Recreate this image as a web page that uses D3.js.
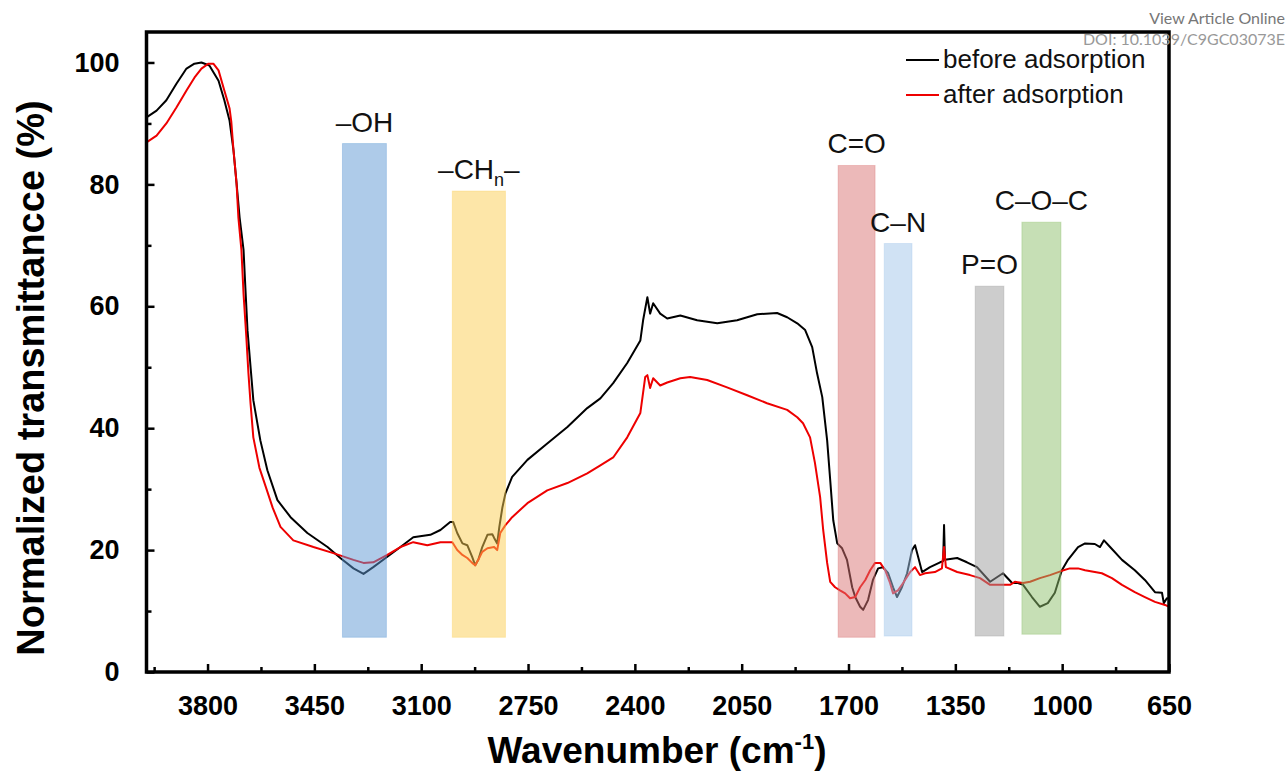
<!DOCTYPE html>
<html>
<head>
<meta charset="utf-8">
<script src="https://cdn.jsdelivr.net/npm/d3@7"></script>
<style>
  html, body { margin: 0; padding: 0; background: #fff; }
  svg { display: block; }
</style>
</head>
<body>
<svg id="chart" width="1288" height="772"></svg>
<script>
// ---- Data (wavenumber cm-1, normalized transmittance %) ----
const beforeWn = [4000,3967,3935,3902,3869,3843,3820,3794,3764,3745,3728,3715,3705,3695,3682,3676,3669,3659,3650,3627,3604,3571,3528,3473,3407,3365,3322,3289,3257,3211,3168,3126,3070,3037,3005,2995,2982,2965,2949,2933,2923,2913,2900,2883,2867,2861,2851,2844,2834,2824,2802,2752,2687,2621,2556,2513,2471,2425,2382,2373,2359,2350,2340,2317,2294,2251,2196,2130,2065,1999,1934,1901,1868,1842,1819,1803,1786,1770,1760,1750,1737,1721,1705,1688,1678,1662,1652,1636,1620,1603,1587,1570,1554,1541,1525,1508,1492,1482,1472,1459,1433,1400,1390,1387,1384,1344,1312,1279,1236,1194,1164,1145,1128,1099,1073,1047,1024,1001,981,948,925,893,876,863,843,804,762,729,696,673,667,657,650];
const beforeT  = [91.0,92.1,93.8,96.5,99.0,99.8,100,99.5,97.0,93.8,90.5,85.6,80.2,74.6,69.2,63,56,50,44.6,38,33.1,28.2,25.4,22.8,20.5,18.7,17.0,16.1,17.2,18.9,20.5,22.1,22.5,23.3,24.6,24.6,22.8,21.1,20.8,18.9,17.5,18.4,20.5,22.5,22.6,22.0,21.1,23.8,27.0,29.3,32.0,34.8,37.5,40.2,43.3,44.9,47.4,50.7,54.4,57.7,61.5,58.8,60.5,58.8,58.0,58.5,57.7,57.2,57.7,58.7,58.9,58.2,57.2,56.1,53.3,49,45.1,38,31.5,24.9,21.1,20.3,18.4,13.9,12.3,10.7,10.2,11.8,15.1,17.0,17.2,16.2,13.9,12.3,13.9,16.2,20.0,20.8,18.9,16.4,17.2,18.0,18.2,24.1,18.4,18.7,18.0,17.2,14.8,16.2,14.6,14.6,14.3,12.3,10.7,11.3,13.0,16.7,18.4,20.5,21.1,21.0,20.5,21.6,20.5,18.4,16.7,15.1,13.1,13.0,11.3,12.1,12.0];

const afterWn = [4000,3967,3935,3902,3869,3843,3820,3797,3781,3764,3745,3728,3722,3715,3705,3699,3689,3682,3673,3666,3659,3650,3630,3610,3587,3561,3519,3453,3388,3322,3289,3257,3211,3168,3126,3080,3037,2998,2982,2965,2949,2933,2923,2913,2900,2883,2861,2851,2841,2824,2802,2752,2687,2621,2556,2513,2471,2425,2382,2366,2359,2350,2340,2317,2294,2251,2219,2163,2098,2032,1967,1901,1868,1849,1826,1810,1793,1783,1770,1760,1744,1728,1711,1695,1678,1662,1645,1629,1613,1596,1580,1564,1554,1538,1521,1498,1482,1466,1449,1417,1394,1387,1381,1344,1302,1269,1236,1204,1171,1155,1128,1105,1073,1040,1001,975,948,925,893,870,837,804,762,729,696,663,650];
const afterT  = [86.9,88.0,90.0,92.6,95.4,97.5,99.0,99.8,99.8,98.7,95.4,92.5,90.2,85.6,80.2,74.6,69.2,62,55,49,44.0,38.5,33.5,30.5,27,23.8,21.6,20.5,19.5,18.4,17.9,18.0,19.2,20.5,21.3,20.8,21.3,21.3,20.0,19.2,18.7,17.9,17.5,18.4,19.7,20.3,20.5,20.0,22.8,24.1,25.4,27.7,29.8,31.0,32.6,33.9,35.2,38.5,42.5,48.4,48.7,46.6,48.2,47.0,47.5,48.2,48.4,47.9,46.7,45.4,44.1,43.0,41.8,40.8,38.5,34.3,28.7,23.3,17.9,14.8,13.9,13.4,12.9,12.1,12.3,13.9,15.1,16.7,17.9,17.9,16.7,14.6,12.9,13.4,14.6,16.4,17.2,15.9,16.2,16.4,17.0,20.5,17.2,16.4,15.9,15.4,14.3,14.3,14.3,14.8,14.6,14.8,15.4,15.9,16.6,17.0,17.0,16.7,16.4,16.2,15.4,14.3,13.1,12.3,11.5,11.0,10.7];

const bandLabels = ["–OH", "–CH|n|–", "C=O", "C–N", "P=O", "C–O–C"];
const bandFrom   = [3358, 2998, 1734, 1583, 1285, 1132];
const bandTo     = [3214, 2824, 1613, 1492, 1191, 1004];
const bandTop    = [86.7, 78.9, 83.1, 70.3, 63.3, 73.8];
const bandBottom = [5.7, 5.7, 5.7, 5.9, 5.9, 6.2];
const bandColors = ["#5d98d4", "#fbcd52", "#d97373", "#a2c6ea", "#9c9c9c", "#8dbf6b"];

const seriesNames  = ["before adsorption", "after adsorption"];
const seriesColors = ["#000000", "#ee0000"];

const xMajorTicks = [3800, 3450, 3100, 2750, 2400, 2050, 1700, 1350, 1000, 650];
const xMinorTicks = [3975, 3625, 3275, 2925, 2575, 2225, 1875, 1525, 1175, 825];
const yMajorTicks = [0, 20, 40, 60, 80, 100];
const yMinorTicks = [10, 30, 50, 70, 90];

// ---- Layout ----
const svg = d3.select("#chart");
const L = 146.5, R = 1169, T = 32, B = 672;
const x = d3.scaleLinear().domain([4000, 650]).range([L, R]);
const y = d3.scaleLinear().domain([0, 105]).range([B, T]);

// curves
const line = d3.line().x(d => x(d[0])).y(d => y(d[1]));
const beforeData = beforeWn.map((w, i) => [w, beforeT[i]]);
const afterData  = afterWn.map((w, i) => [w, afterT[i]]);

svg.append("path").datum(beforeData).attr("d", line)
  .attr("fill", "none").attr("stroke", seriesColors[0]).attr("stroke-width", 2).attr("stroke-linejoin", "round");
svg.append("path").datum(afterData).attr("d", line)
  .attr("fill", "none").attr("stroke", seriesColors[1]).attr("stroke-width", 2).attr("stroke-linejoin", "round");

// bands (semi-transparent, on top of the curves)
const bands = bandLabels.map((lab, i) => ({lab, a: bandFrom[i], b: bandTo[i], top: bandTop[i], bot: bandBottom[i], c: bandColors[i]}));
svg.append("g").selectAll("rect").data(bands).join("rect")
  .attr("x", d => x(d.a)).attr("width", d => x(d.b) - x(d.a))
  .attr("y", d => y(d.top)).attr("height", d => y(d.bot) - y(d.top))
  .attr("fill", d => d.c).attr("fill-opacity", 0.5)
  .attr("stroke", d => d.c).attr("stroke-opacity", 0.35).attr("stroke-width", 1);

// band labels
const labG = svg.append("g").attr("font-family", "Liberation Sans, Arial, sans-serif").attr("font-size", 28).attr("fill", "#111");
bands.forEach(d => {
  const t = labG.append("text").attr("x", (x(d.a) + x(d.b)) / 2).attr("y", y(d.top) - 12).attr("text-anchor", "middle");
  const parts = d.lab.split("|");
  parts.forEach((p, k) => {
    if (k === 1) {
      t.append("tspan").attr("font-size", 18).attr("dy", 7).text(p);
    } else if (k === 2) {
      t.append("tspan").attr("dy", -7).text(p);
    } else {
      t.append("tspan").text(p);
    }
  });
});

// axes
const axFont = "Liberation Sans, Arial, sans-serif";
const xAxis = svg.append("g").attr("transform", `translate(0,${B})`)
  .call(d3.axisBottom(x).tickValues(xMajorTicks).tickSize(-8).tickPadding(24).tickFormat(d3.format("d")));
const xMinor = svg.append("g").attr("transform", `translate(0,${B})`)
  .call(d3.axisBottom(x).tickValues(xMinorTicks).tickSize(-5).tickFormat(""));
const yAxis = svg.append("g").attr("transform", `translate(${L},0)`)
  .call(d3.axisLeft(y).tickValues(yMajorTicks).tickSize(-8).tickPadding(27).tickFormat(d3.format("d")));
const yMinor = svg.append("g").attr("transform", `translate(${L},0)`)
  .call(d3.axisLeft(y).tickValues(yMinorTicks).tickSize(-5).tickFormat(""));

[xAxis, xMinor, yAxis, yMinor].forEach(g => {
  g.select(".domain").remove();
  g.selectAll(".tick line").attr("stroke", "#000").attr("stroke-width", 2.5);
  g.selectAll(".tick text").attr("font-family", axFont).attr("font-weight", "bold")
    .attr("font-size", 27).attr("fill", "#000");
});

// frame
svg.append("rect").attr("x", L).attr("y", T).attr("width", R - L).attr("height", B - T)
  .attr("fill", "none").attr("stroke", "#000").attr("stroke-width", 3.5);

// axis titles
svg.append("text")
  .attr("transform", `translate(44,378) rotate(-90)`)
  .attr("text-anchor", "middle").attr("font-family", axFont).attr("font-weight", "bold")
  .attr("font-size", 38).attr("fill", "#000")
  .text("Normalized transmittancce (%)");

const xt = svg.append("text").attr("x", 657).attr("y", 763).attr("text-anchor", "middle")
  .attr("font-family", axFont).attr("font-weight", "bold").attr("font-size", 37).attr("fill", "#000");
xt.append("tspan").text("Wavenumber (cm");
xt.append("tspan").attr("font-size", 22).attr("dy", -14).text("-1");
xt.append("tspan").attr("dy", 14).text(")");

// legend
const leg = svg.append("g").attr("font-family", axFont).attr("font-size", 26).attr("fill", "#111");
seriesNames.forEach((n, i) => {
  const yy = 60 + i * 35;
  leg.append("line").attr("x1", 906).attr("x2", 939).attr("y1", yy).attr("y2", yy)
    .attr("stroke", seriesColors[i]).attr("stroke-width", 2);
  leg.append("text").attr("x", 943).attr("y", yy + 8).text(n);
});

// watermark
const wm = svg.append("g").attr("font-family", "Lato, Open Sans, sans-serif").attr("font-size", 16).attr("text-anchor", "end");
wm.append("text").attr("x", 1285).attr("y", 24).attr("fill", "#777").text("View Article Online");
wm.append("text").attr("x", 1285).attr("y", 45).attr("fill", "#999").text("DOI: 10.1039/C9GC03073E");
</script>
</body>
</html>
